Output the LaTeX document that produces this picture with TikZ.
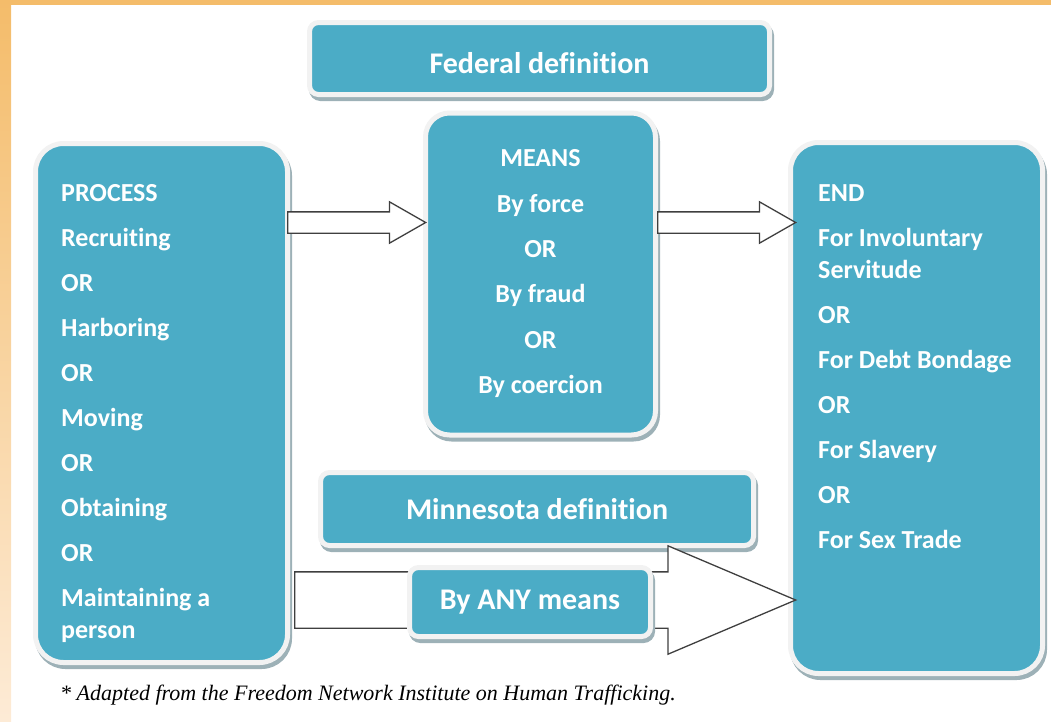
\documentclass[tikz,border=0pt]{standalone}
\usepackage{fontspec}
\setmainfont{Carlito}[Ligatures=NoCommon]
\newfontfamily\notefont{Liberation Serif}
\usetikzlibrary{positioning, shadows, shapes.arrows}
\definecolor{boxteal}{HTML}{4BACC6}
\definecolor{boxrim}{HTML}{F2F2F2}
\definecolor{rimshade}{HTML}{9DB1B7}
\definecolor{arrowline}{HTML}{3F3F3F}
\definecolor{frametop}{HTML}{F4BC6A}
\definecolor{framelow}{HTML}{FDEBD6}

\begin{document}
\begin{tikzpicture}[
  x=1pt, y=-1pt,
  defBox/.style={draw=boxrim, line width=5pt, fill=boxteal, rounded corners=9pt, inner sep=0pt, text=white, font=\bfseries\fontsize{30}{36}\selectfont, drop shadow={shadow xshift=2pt, shadow yshift=-4pt, fill=rimshade, draw=rimshade, line width=5pt, opacity=1}},
  tallBox/.style={defBox, rounded corners=28pt},
  listText/.style={text=white, inner sep=0pt, font=\bfseries\fontsize{26}{32}\selectfont},
  blockArrow/.style={single arrow, draw=arrowline, line width=1.3pt, fill=white, inner xsep=0pt, anchor=tail},
  noteText/.style={font=\notefont\itshape\fontsize{22}{26}\selectfont, anchor=base west, inner sep=0pt}
]
\useasboundingbox (0,0) rectangle (1051,721);

% Frame
\fill[frametop] (0,0) rectangle (1051,5);
\shade[top color=frametop, bottom color=framelow] (0,0) rectangle (11,721);

% Boxes
\node[defBox, minimum width=460pt, minimum height=72pt, text height=29pt, text depth=0pt] (federal) at (539.5,58.5) {Federal definition};
\node[tallBox, minimum width=252pt, minimum height=519pt] (process) at (161.5,403) {};
\node[tallBox, minimum width=230pt, minimum height=322pt, rounded corners=24pt] (means) at (540.5,274) {};
\node[tallBox, minimum width=252pt, minimum height=531pt] (ends) at (916.5,408) {};
\node[defBox, minimum width=433pt, minimum height=73pt] (minnesota) at (537,509) {Minnesota definition};

% Box texts
\node[listText, align=left, anchor=north west] (processList) at (61,184) {PROCESS\\[13pt]Recruiting\\[13pt]OR\\[13pt]Harboring\\[13pt]OR\\[13pt]Moving\\[13pt]OR\\[13pt]Obtaining\\[13pt]OR\\[13pt]Maintaining a\\person};
\node[listText, align=center, anchor=north, font=\bfseries\fontsize{26}{45.4}\selectfont] (meansList) at (540.5,149.5) {MEANS\\By force\\OR\\By fraud\\OR\\By coercion};
\node[listText, align=left, anchor=north west] (endsList) at (818,184) {END\\[13pt]For Involuntary\\Servitude\\[13pt]OR\\[13pt]For Debt Bondage\\[13pt]OR\\[13pt]For Slavery\\[13pt]OR\\[13pt]For Sex Trade};

% Arrows
\node[blockArrow, inner ysep=27.5pt, minimum height=501pt, single arrow head extend=26pt, single arrow tip angle=46] (anyArrow) at (294,600) {};
\node[defBox, minimum width=241pt, minimum height=69pt] (byAny) at (530,602) {By ANY means};
\node[blockArrow, inner ysep=10pt, minimum height=138pt, single arrow head extend=10pt, single arrow tip angle=59.5] (toMeans) at (287,222.5) {};
\node[blockArrow, inner ysep=10pt, minimum height=138pt, single arrow head extend=10pt, single arrow tip angle=59.5] (toEnds) at (657,222.5) {};

% Source
\node[noteText] (source) at (60,700) {* Adapted from the Freedom Network Institute on Human Trafficking.};

\end{tikzpicture}
\end{document}
